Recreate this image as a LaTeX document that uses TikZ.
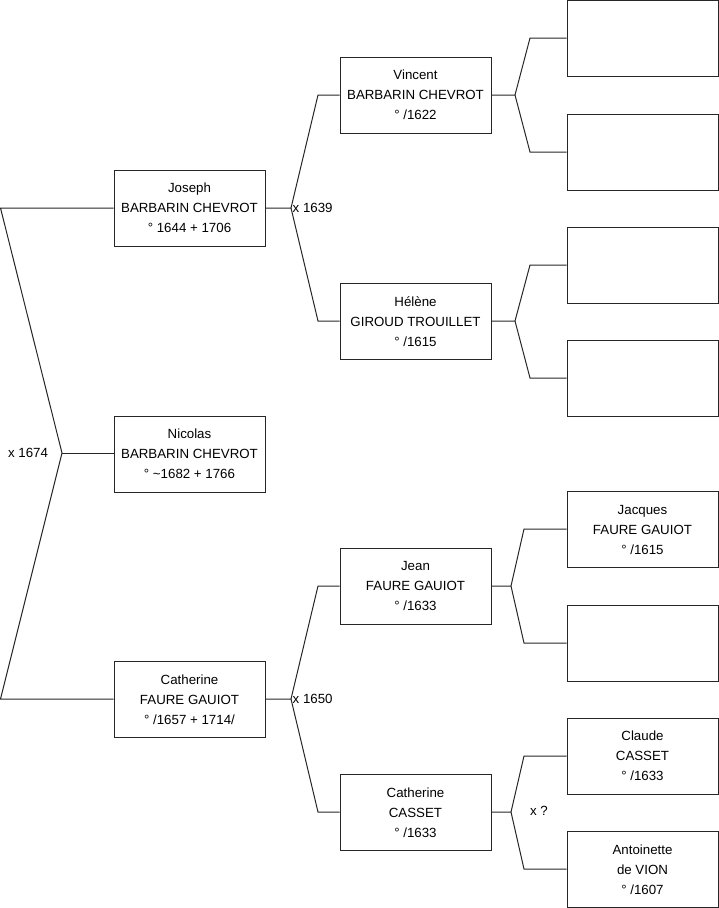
\documentclass[tikz,border=0pt]{standalone}
\usepackage{fontspec}
\setmainfont{Liberation Sans}
\begin{document}
\begin{tikzpicture}[x=1pt,y=-1pt,
  person/.style={draw=black!85, line width=1pt, minimum width=151pt, minimum height=76pt,
    inner sep=0pt, align=center, font=\fontsize{13.3}{20}\selectfont},
  link/.style={draw=black!85, line width=1pt},
  lbl/.style={inner sep=0pt, font=\fontsize{13.3}{16}\selectfont}]
\useasboundingbox (0,0) rectangle (719,908);
% generation 1
\node[person] (joseph) at (189.5,208) {Joseph\\BARBARIN CHEVROT\\° 1644 + 1706};
\node[person] (nicolas) at (189.5,454) {Nicolas\\BARBARIN CHEVROT\\° \textasciitilde1682 + 1766};
\node[person] (catherine) at (189.5,699.5) {Catherine\\FAURE GAUIOT\\° /1657 + 1714/};
% generation 2
\node[person] (vincent) at (415.5,95) {Vincent\\BARBARIN CHEVROT\\° /1622};
\node[person] (helene) at (415.5,321.5) {Hélène\\GIROUD TROUILLET\\° /1615};
\node[person] (jean) at (415.5,586) {Jean\\FAURE GAUIOT\\° /1633};
\node[person] (casset) at (415.5,812.5) {Catherine\\CASSET\\° /1633};
% generation 3
\node[person] (g1) at (642.5,38) {};
\node[person] (g2) at (642.5,152) {};
\node[person] (g3) at (642.5,265) {};
\node[person] (g4) at (642.5,378) {};
\node[person] (g5) at (642.5,529.5) {Jacques\\FAURE GAUIOT\\° /1615};
\node[person] (g6) at (642.5,643) {};
\node[person] (g7) at (642.5,756) {Claude\\CASSET\\° /1633};
\node[person] (g8) at (642.5,869.5) {Antoinette\\de VION\\° /1607};
% fork points
\coordinate (a1) at (0.5,208);
\coordinate (a2) at (0.5,699);
\coordinate (av) at (62,453);
\coordinate (bv) at (291,208);
\coordinate (b1) at (318,95);
\coordinate (b2) at (318,321);
\coordinate (cv) at (291,699);
\coordinate (c1) at (318,586);
\coordinate (c2) at (318,812);
\coordinate (dv) at (515,95);
\coordinate (d1) at (530,38);
\coordinate (d2) at (530,152);
\coordinate (ev) at (515,321);
\coordinate (e1) at (530,265);
\coordinate (e2) at (530,378);
\coordinate (fv) at (511,586);
\coordinate (f1) at (524,529);
\coordinate (f2) at (524,643);
\coordinate (hv) at (511,812);
\coordinate (h1) at (524,756);
\coordinate (h2) at (524,869);
% connectors
\draw[link] (joseph.west) -- (a1) -- (av) -- (a2) -- (catherine.west |- a2);
\draw[link] (av) -- (nicolas.west |- av);
\draw[link] (joseph.east) -- (bv) -- (b1) -- (vincent.west |- b1);
\draw[link] (bv) -- (b2) -- (helene.west |- b2);
\draw[link] (catherine.east |- cv) -- (cv) -- (c1) -- (jean.west |- c1);
\draw[link] (cv) -- (c2) -- (casset.west |- c2);
\draw[link] (vincent.east) -- (dv) -- (d1) -- (g1.west);
\draw[link] (dv) -- (d2) -- (g2.west);
\draw[link] (helene.east |- ev) -- (ev) -- (e1) -- (g3.west);
\draw[link] (ev) -- (e2) -- (g4.west);
\draw[link] (jean.east) -- (fv) -- (f1) -- (g5.west |- f1);
\draw[link] (fv) -- (f2) -- (g6.west);
\draw[link] (casset.east |- hv) -- (hv) -- (h1) -- (g7.west);
\draw[link] (hv) -- (h2) -- (g8.west |- h2);
% labels
\node[lbl] (m1) at (28,453) {x 1674};
\node[lbl, anchor=west] (m2) at (292.5,208) {x 1639};
\node[lbl, anchor=west] (m3) at (292.5,699) {x 1650};
\node[lbl] (m4) at (539,811) {x ?};
\end{tikzpicture}
\end{document}
